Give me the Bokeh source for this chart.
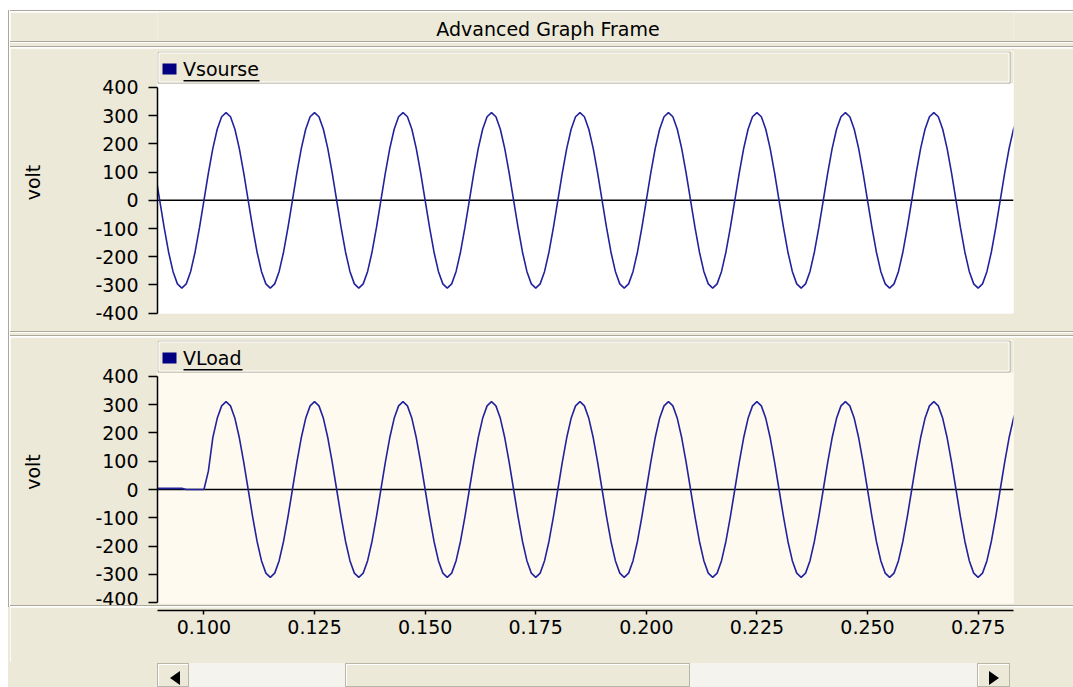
from bokeh.plotting import figure
from bokeh.models import (ColumnDataSource, Range1d, FixedTicker, Span, BoxAnnotation,
                          Label, Legend, LegendItem, Div)
from bokeh.layouts import column, row
from bokeh.embed import file_html
from bokeh.resources import INLINE

# ---------------- data ----------------
TIME = [
    0.089, 0.090, 0.091, 0.092, 0.093, 0.094, 0.095, 0.096, 0.097, 0.098,
    0.099, 0.100, 0.101, 0.102, 0.103, 0.104, 0.105, 0.106, 0.107, 0.108,
    0.109, 0.110, 0.111, 0.112, 0.113, 0.114, 0.115, 0.116, 0.117, 0.118,
    0.119, 0.120, 0.121, 0.122, 0.123, 0.124, 0.125, 0.126, 0.127, 0.128,
    0.129, 0.130, 0.131, 0.132, 0.133, 0.134, 0.135, 0.136, 0.137, 0.138,
    0.139, 0.140, 0.141, 0.142, 0.143, 0.144, 0.145, 0.146, 0.147, 0.148,
    0.149, 0.150, 0.151, 0.152, 0.153, 0.154, 0.155, 0.156, 0.157, 0.158,
    0.159, 0.160, 0.161, 0.162, 0.163, 0.164, 0.165, 0.166, 0.167, 0.168,
    0.169, 0.170, 0.171, 0.172, 0.173, 0.174, 0.175, 0.176, 0.177, 0.178,
    0.179, 0.180, 0.181, 0.182, 0.183, 0.184, 0.185, 0.186, 0.187, 0.188,
    0.189, 0.190, 0.191, 0.192, 0.193, 0.194, 0.195, 0.196, 0.197, 0.198,
    0.199, 0.200, 0.201, 0.202, 0.203, 0.204, 0.205, 0.206, 0.207, 0.208,
    0.209, 0.210, 0.211, 0.212, 0.213, 0.214, 0.215, 0.216, 0.217, 0.218,
    0.219, 0.220, 0.221, 0.222, 0.223, 0.224, 0.225, 0.226, 0.227, 0.228,
    0.229, 0.230, 0.231, 0.232, 0.233, 0.234, 0.235, 0.236, 0.237, 0.238,
    0.239, 0.240, 0.241, 0.242, 0.243, 0.244, 0.245, 0.246, 0.247, 0.248,
    0.249, 0.250, 0.251, 0.252, 0.253, 0.254, 0.255, 0.256, 0.257, 0.258,
    0.259, 0.260, 0.261, 0.262, 0.263, 0.264, 0.265, 0.266, 0.267, 0.268,
    0.269, 0.270, 0.271, 0.272, 0.273, 0.274, 0.275, 0.276, 0.277, 0.278,
    0.279, 0.280, 0.281, 0.282, 0.283, 0.284,
]

VSOURSE = [
    96, 0, -96, -183, -252, -296, -311, -296, -252, -183,
    -96, 0, 96, 183, 252, 296, 311, 296, 252, 183,
    96, 0, -96, -183, -252, -296, -311, -296, -252, -183,
    -96, 0, 96, 183, 252, 296, 311, 296, 252, 183,
    96, 0, -96, -183, -252, -296, -311, -296, -252, -183,
    -96, 0, 96, 183, 252, 296, 311, 296, 252, 183,
    96, 0, -96, -183, -252, -296, -311, -296, -252, -183,
    -96, 0, 96, 183, 252, 296, 311, 296, 252, 183,
    96, 0, -96, -183, -252, -296, -311, -296, -252, -183,
    -96, 0, 96, 183, 252, 296, 311, 296, 252, 183,
    96, 0, -96, -183, -252, -296, -311, -296, -252, -183,
    -96, 0, 96, 183, 252, 296, 311, 296, 252, 183,
    96, 0, -96, -183, -252, -296, -311, -296, -252, -183,
    -96, 0, 96, 183, 252, 296, 311, 296, 252, 183,
    96, 0, -96, -183, -252, -296, -311, -296, -252, -183,
    -96, 0, 96, 183, 252, 296, 311, 296, 252, 183,
    96, 0, -96, -183, -252, -296, -311, -296, -252, -183,
    -96, 0, 96, 183, 252, 296, 311, 296, 252, 183,
    96, 0, -96, -183, -252, -296, -311, -296, -252, -183,
    -96, 0, 96, 183, 252, 296,
]

VLOAD = [
    4, 4, 4, 4, 4, 4, 4, 0, 0, 0,
    0, 0, 65, 183, 252, 296, 311, 296, 252, 183,
    96, 0, -96, -183, -252, -296, -311, -296, -252, -183,
    -96, 0, 96, 183, 252, 296, 311, 296, 252, 183,
    96, 0, -96, -183, -252, -296, -311, -296, -252, -183,
    -96, 0, 96, 183, 252, 296, 311, 296, 252, 183,
    96, 0, -96, -183, -252, -296, -311, -296, -252, -183,
    -96, 0, 96, 183, 252, 296, 311, 296, 252, 183,
    96, 0, -96, -183, -252, -296, -311, -296, -252, -183,
    -96, 0, 96, 183, 252, 296, 311, 296, 252, 183,
    96, 0, -96, -183, -252, -296, -311, -296, -252, -183,
    -96, 0, 96, 183, 252, 296, 311, 296, 252, 183,
    96, 0, -96, -183, -252, -296, -311, -296, -252, -183,
    -96, 0, 96, 183, 252, 296, 311, 296, 252, 183,
    96, 0, -96, -183, -252, -296, -311, -296, -252, -183,
    -96, 0, 96, 183, 252, 296, 311, 296, 252, 183,
    96, 0, -96, -183, -252, -296, -311, -296, -252, -183,
    -96, 0, 96, 183, 252, 296, 311, 296, 252, 183,
    96, 0, -96, -183, -252, -296, -311, -296, -252, -183,
    -96, 0, 96, 183, 252, 296,
]

SERIES_NAMES = ["Vsourse", "VLoad"]
Y_TICKS = [-400, -300, -200, -100, 0, 100, 200, 300, 400]
Y_TICK_LABELS = ["-400", "-300", "-200", "-100", "0", "100", "200", "300", "400"]
X_TICKS = [0.100, 0.125, 0.150, 0.175, 0.200, 0.225, 0.250, 0.275]
X_TICK_LABELS = ["0.100", "0.125", "0.150", "0.175", "0.200", "0.225", "0.250", "0.275"]
X_START, X_END = 0.0895, 0.2830
TITLE = "Advanced Graph Frame"
Y_LABEL = "volt"

# ---------------- style / layout ----------------
X0 = 10                      # page x of the main column
W = 1073 - X0
LEFT = 157 - X0
FRAME_W = 856
RIGHT = W - LEFT - FRAME_W
GREY = "#ECE9D8"
EDGE = "#ACA899"
WHITE = "#FFFFFF"
BTN_EDGE = "#B9B6A8"
TROUGH = "#F4F3EE"
BLUE = "#22229C"
NAVY = "#000080"
FONT = "DejaVu Sans"
FS = "19px"

xr = Range1d(X_START, X_END)


def strip(color, h, w=W):
    return Div(text="", width=w, height=h, margin=0, styles={"background-color": color})


def base_fig(height, **kw):
    p = figure(width=W, height=height, output_backend="svg", toolbar_location=None,
               tools="", min_border_left=LEFT, min_border_right=RIGHT, **kw)
    p.grid.visible = False
    p.outline_line_color = None
    p.border_fill_color = GREY
    return p


def canvas_box(p, l, t, r, b, fill=None, line=None, lw=1.0):
    # l and r are given in page pixels, t and b in canvas pixels
    p.add_layout(BoxAnnotation(
        left=l - X0, right=r - X0, top=t, bottom=b,
        left_units="canvas", right_units="canvas", top_units="canvas", bottom_units="canvas",
        fill_color=fill, fill_alpha=1.0 if fill else 0.0,
        line_color=line, line_alpha=1.0 if line else 0.0, line_width=lw))


# ---- title bar ----
ft = base_fig(29, x_range=Range1d(0, 1), y_range=Range1d(0, 1),
              x_axis_location=None, y_axis_location=None,
              min_border_top=0, min_border_bottom=0)
ft.background_fill_color = GREY
ft.add_layout(Label(x=547.5 - X0, y=16, x_units="canvas", y_units="canvas", text=TITLE,
                    text_align="center", text_baseline="middle", text_font=FONT,
                    text_font_size=FS, text_color="black"))


def panel(values, name, bg, y0, y1, height, frame_h, text_w):
    p = base_fig(height, x_range=xr, y_range=Range1d(y0, y1), x_axis_location=None,
                 min_border_top=3, min_border_bottom=height - 3 - frame_h)
    p.background_fill_color = bg

    ax = p.yaxis[0]
    ax.ticker = FixedTicker(ticks=Y_TICKS)
    ax.major_label_overrides = dict(zip(Y_TICKS, Y_TICK_LABELS))
    ax.bounds = (-400, 400)
    ax.axis_label = Y_LABEL
    ax.axis_label_text_font = FONT
    ax.axis_label_text_font_size = FS
    ax.axis_label_text_font_style = "normal"
    ax.axis_label_text_color = "black"
    ax.axis_label_standoff = 48
    ax.major_label_text_font = FONT
    ax.major_label_text_font_size = FS
    ax.major_label_text_color = "black"
    ax.major_label_standoff = 10
    ax.major_tick_in = 0
    ax.major_tick_out = 9
    ax.minor_tick_in = 0
    ax.minor_tick_out = 0
    ax.axis_line_color = "black"
    ax.axis_line_width = 1.5
    ax.major_tick_line_color = "black"
    ax.major_tick_line_width = 1.5

    p.add_layout(Span(location=0, dimension="width", line_color="black",
                      line_width=1.5, level="underlay"))
    src = ColumnDataSource(dict(t=TIME, v=values))
    p.line(x="t", y="v", source=src, line_color=BLUE, line_width=1.6)

    # legend bar (window chrome above the plotting area)
    canvas_box(p, 157, 3, 157 + FRAME_W, 35, fill=GREY)
    canvas_box(p, 157.5, 3.5, 1009.5, 34.5, line=EDGE)
    canvas_box(p, 158.5, 4.5, 1008.5, 33.5, line=WHITE)
    canvas_box(p, 162, 15, 176, 26, fill=NAVY)
    canvas_box(p, 183, 31.5, 183 + text_w, 33, fill="black")
    proxy = p.line(x=[], y=[], line_color=NAVY, line_width=11, line_cap="butt")
    leg = Legend(items=[LegendItem(label=name, renderers=[proxy])],
                 location=(5, frame_h - 29), orientation="horizontal",
                 padding=0, margin=0, spacing=0,
                 glyph_width=14, glyph_height=22, label_height=22, label_standoff=7,
                 label_text_font=FONT, label_text_font_size=FS, label_text_color="black",
                 background_fill_alpha=0.0, border_line_alpha=0.0)
    p.add_layout(leg)
    return p


panel_top = panel(VSOURSE, SERIES_NAMES[0], WHITE, -401, 527.3, 283, 262, 76)
panel_bot = panel(VLOAD, SERIES_NAMES[1], "#FEFAF0", -403.5, 527.4, 268, 263, 59)

# ---- x axis ----
fx = base_fig(55, x_range=xr, y_range=Range1d(0, 1), y_axis_location=None,
              min_border_top=0, min_border_bottom=52)
fx.background_fill_color = GREY
xa = fx.xaxis[0]
xa.ticker = FixedTicker(ticks=X_TICKS)
xa.major_label_overrides = dict(zip(X_TICKS, X_TICK_LABELS))
xa.major_label_text_font = FONT
xa.major_label_text_font_size = FS
xa.major_label_text_color = "black"
xa.major_label_standoff = 5
xa.major_tick_in = 0
xa.major_tick_out = 4
xa.minor_tick_in = 0
xa.minor_tick_out = 0
xa.axis_line_color = "black"
xa.axis_line_width = 1.5
xa.major_tick_line_color = "black"
xa.major_tick_line_width = 1.5


# ---- scrollbar (window chrome) ----
def sb_button(w, arrow):
    html = ('<div style="box-sizing:border-box;width:%dpx;height:24px;margin-top:1px;'
            'background:%s;border:1px solid %s;box-shadow:inset 1px 1px 0 #fff;'
            'position:relative">%s</div>') % (w, GREY, BTN_EDGE, arrow)
    return Div(text=html, width=w, height=25, margin=0, styles={"background-color": GREY})


def sb_trough(w):
    html = ('<div style="width:%dpx;height:24px;margin-top:1px;background:%s"></div>'
            % (w, TROUGH))
    return Div(text=html, width=w, height=25, margin=0, styles={"background-color": GREY})


LEFT_ARROW = ('<div style="position:absolute;left:12px;top:7px;width:0;height:0;'
              'border-top:7px solid transparent;border-bottom:7px solid transparent;'
              'border-right:10px solid #000"></div>')
RIGHT_ARROW = ('<div style="position:absolute;left:11px;top:7px;width:0;height:0;'
               'border-top:7px solid transparent;border-bottom:7px solid transparent;'
               'border-left:10px solid #000"></div>')

scroll = row(
    strip(GREY, 25, LEFT),
    sb_button(32, LEFT_ARROW),
    sb_trough(156),
    sb_button(345, ""),
    sb_trough(287),
    sb_button(33, RIGHT_ARROW),
    strip(GREY, 25, W - LEFT - 32 - 156 - 345 - 287 - 33),
    spacing=0,
)

main = column(
    strip(WHITE, 10),
    strip(EDGE, 1), strip(WHITE, 1),
    ft,
    strip(EDGE, 1), strip(WHITE, 1),
    strip(GREY, 3),
    strip(EDGE, 1), strip(WHITE, 1),
    panel_top,
    strip(EDGE, 1), strip(WHITE, 1),
    strip(GREY, 2),
    strip(EDGE, 1), strip(WHITE, 1),
    panel_bot,
    strip(EDGE, 1), strip(WHITE, 1),
    fx,
    scroll,
    spacing=0,
)

edge_col = column(strip(WHITE, 10, 1), strip(EDGE, 597, 1), strip(GREY, 80, 1), spacing=0)
light_col = column(strip(WHITE, 606, 1), strip(GREY, 81, 1), spacing=0)

layout = row(strip(WHITE, 687, 8), edge_col, light_col, main, spacing=0)
open("out.html", "w").write(file_html(layout, INLINE))
